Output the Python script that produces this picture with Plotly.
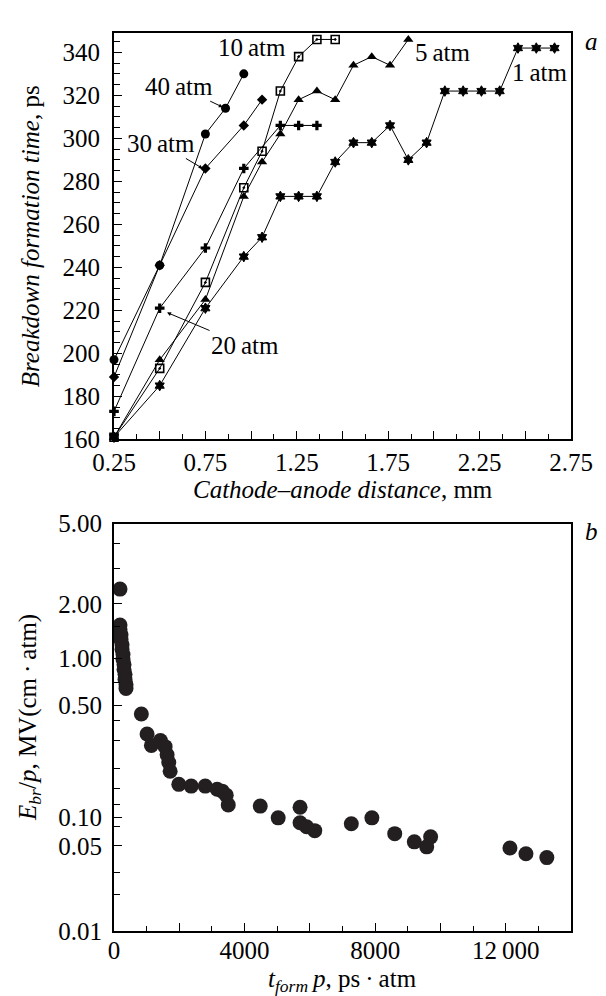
import numpy as np
import plotly.graph_objects as go

# ---------------- Panel a data ----------------
x_40 = [0.25, 0.50, 0.75, 0.86, 0.96]
y_40 = [197, 241, 302, 314, 330]

x_30 = [0.25, 0.50, 0.75, 0.96, 1.06]
y_30 = [189, 241, 286, 306, 318]

x_20 = [0.25, 0.50, 0.75, 0.96, 1.16, 1.26, 1.36]
y_20 = [173, 221, 249, 286, 306, 306, 306]

x_10 = [0.25, 0.50, 0.75, 0.96, 1.06, 1.16, 1.26, 1.36, 1.46]
y_10 = [161, 193, 233, 277, 294, 322, 338, 346, 346]

x_5 = [0.25, 0.50, 0.75, 0.96, 1.06, 1.16, 1.26, 1.36, 1.46, 1.56, 1.66, 1.76, 1.86]
y_5 = [161, 197, 225, 273, 289, 302, 318, 322, 318, 334, 338, 334, 346]

x_1 = [0.25, 0.50, 0.75, 0.96, 1.06, 1.16, 1.26, 1.36, 1.46, 1.56, 1.66, 1.76,
       1.86, 1.96, 2.06, 2.16, 2.26, 2.36, 2.46, 2.56, 2.66]
y_1 = [161, 185, 221, 245, 254, 273, 273, 273, 289, 298, 298, 306,
       290, 298, 322, 322, 322, 322, 342, 342, 342]

xa_ticks = [0.25, 0.50, 0.75, 1.00, 1.25, 1.50, 1.75, 2.00, 2.25, 2.50, 2.75]
xa_labels = ["0.25", "", "0.75", "", "1.25", "", "1.75", "", "2.25", "", "2.75"]
ya_ticks = [160, 180, 200, 220, 240, 260, 280, 300, 320, 340]

# ---------------- Panel b data ----------------
b_x = [184, 184, 184, 215, 215, 246, 246, 276, 276, 307, 307, 338, 338, 368, 368,
       838, 1013, 1145, 1422, 1566, 1627, 1678, 1720, 1985, 2365, 2795, 3160,
       3315, 3438, 3500,
       4480, 5030, 5700, 5700, 5900, 6150, 7270, 7900, 8600, 9200, 9700, 9580,
       12130, 12620, 13260]
b_y = [2.37, 1.53, 1.44, 1.35, 1.27, 1.19, 1.12, 1.05, 0.985, 0.915, 0.85, 0.79, 0.73, 0.68, 0.64,
       0.44, 0.33, 0.28, 0.30, 0.275, 0.245, 0.219, 0.193, 0.160, 0.156, 0.156, 0.149,
       0.145, 0.137, 0.119,
       0.117, 0.098, 0.115, 0.087, 0.079, 0.072, 0.085, 0.098, 0.067, 0.055, 0.062, 0.049,
       0.048, 0.043, 0.040]

xb_ticks = [0, 2000, 4000, 6000, 8000, 10000, 12000, 14000]
xb_labels = ["0", "", "4000", "", "8000", "", "12\u2009000", ""]

# y scale of panel b: non-uniform, defined by its labelled ticks
yb_tick_vals = [0.01, 0.05, 0.10, 0.50, 1.00, 2.00, 5.00]
yb_tick_text = ["0.01", "0.05", "0.10", "0.50", "1.00", "2.00", "5.00"]
yb_tick_pos = [0.0, 0.2092, 0.2798, 0.5547, 0.6691, 0.8029, 1.0]
yb_minor_vals = [4, 3, 1.5, 0.7, 0.4, 0.3, 0.2, 0.15, 0.12, 0.08, 0.03, 0.02]


def yb_scale(v):
    return np.interp(np.log10(np.asarray(v, dtype=float)), np.log10(yb_tick_vals), yb_tick_pos)


FONT = "Liberation Serif"
FS = 25
fig = go.Figure()

series = [
    (x_1, y_1, "hexagram", 8, 1),
    (x_5, y_5, "triangle-up", 9, 0),
    (x_10, y_10, "square-open-dot", 8, 1.6),
    (x_20, y_20, "cross", 8, 0),
    (x_30, y_30, "diamond", 8, 0),
    (x_40, y_40, "circle", 9, 0),
]
for xs, ys, sym, sz, lw in series:
    fig.add_trace(go.Scatter(
        x=xs, y=ys, mode="lines+markers", xaxis="x", yaxis="y",
        line=dict(color="black", width=1),
        marker=dict(symbol=sym, size=sz, color="black",
                    line=dict(color="black", width=lw)),
        showlegend=False, cliponaxis=False))

fig.add_trace(go.Scatter(
    x=b_x, y=yb_scale(b_y), mode="markers", xaxis="x2", yaxis="y2",
    marker=dict(symbol="circle", size=15, color="#231f20", line=dict(width=0)),
    showlegend=False, cliponaxis=False))

axis_common = dict(showline=True, linecolor="black", linewidth=2, mirror=True,
                   ticks="inside", tickcolor="black", tickwidth=1.3,
                   showgrid=False, zeroline=False,
                   tickfont=dict(family=FONT, size=FS, color="black"))

fig.update_layout(
    width=606, height=996,
    margin=dict(l=106, r=43, t=17, b=73),
    paper_bgcolor="white", plot_bgcolor="white",
    font=dict(family=FONT, size=FS, color="black"),
    xaxis=dict(domain=[0, 1], anchor="y", range=[0.25, 2.75],
               tickmode="array", tickvals=xa_ticks, ticktext=xa_labels, ticklen=8,
               minor=dict(dtick=0.125, tick0=0.25, ticklen=5, ticks="inside",
                          tickcolor="black", tickwidth=1.3),
               **axis_common),
    yaxis=dict(domain=[0.5475, 1], anchor="x", range=[160, 349],
               tickmode="array", tickvals=ya_ticks, ticklen=8, ticklabelstandoff=7,
               minor=dict(dtick=5, tick0=160, ticklen=6, ticks="inside",
                          tickcolor="black", tickwidth=1.3),
               **axis_common),
    xaxis2=dict(domain=[0, 1], anchor="y2", range=[0, 14000],
                tickmode="array", tickvals=xb_ticks, ticktext=xb_labels, ticklen=8,
                ticklabelstandoff=-4,
                minor=dict(dtick=1000, tick0=0, ticklen=5, ticks="inside",
                           tickcolor="black", tickwidth=1.3),
                **axis_common),
    yaxis2=dict(domain=[0, 0.4536], anchor="x2", range=[0, 1],
                tickmode="array", tickvals=list(yb_scale(yb_tick_vals)),
                ticktext=yb_tick_text, ticklen=8, ticklabelstandoff=5,
                minor=dict(tickmode="array", tickvals=list(yb_scale(yb_minor_vals)),
                           ticklen=6, ticks="inside", tickcolor="black", tickwidth=1.3),
                **axis_common),
)

ann_font = dict(family=FONT, size=FS, color="black")
arrow = dict(showarrow=True, arrowhead=2, arrowsize=0.8, arrowwidth=1, arrowcolor="black")
C = dict(xanchor="center", yanchor="middle")
annotations = [
    dict(text="10\u2009atm", x=1.005, y=342.3, xref="x", yref="y", showarrow=False, font=ann_font, **C),
    dict(text="5\u2009atm", x=2.05, y=340.0, xref="x", yref="y", showarrow=False, font=ann_font, **C),
    dict(text="1\u2009atm", x=2.58, y=330.8, xref="x", yref="y", showarrow=False, font=ann_font, **C),
    dict(text="40\u2009atm", x=0.845, y=314.5, xref="x", yref="y", ax=-44, ay=-21, font=ann_font, **C, **arrow),
    dict(text="30\u2009atm", x=0.735, y=286.0, xref="x", yref="y", ax=-42, ay=-25, font=ann_font, **C, **arrow),
    dict(text="20\u2009atm", x=0.54, y=219, xref="x", yref="y", ax=78, ay=33, font=ann_font, **C, **arrow),
    dict(text="<i>a</i>", x=1.045, y=0.99, xref="paper", yref="paper", showarrow=False,
         font=dict(family=FONT, size=FS, color="black"), **C),
    dict(text="<i>b</i>", x=1.045, y=0.4448, xref="paper", yref="paper", showarrow=False,
         font=dict(family=FONT, size=FS, color="black"), **C),
    dict(text="<i>Breakdown formation time</i>, ps", x=-0.1838, y=0.7737, xref="paper", yref="paper",
         textangle=-90, showarrow=False, font=ann_font, **C),
    dict(text="<i>Cathode\u2013anode distance</i>, mm", x=0.501, y=0.4912, xref="paper", yref="paper",
         showarrow=False, font=ann_font, **C),
    dict(text="<i>E<sub>br</sub></i>/<i>p</i>, MV(cm\u2009\u00b7\u2009atm)", x=-0.1838, y=0.2373,
         xref="paper", yref="paper", textangle=-90, showarrow=False, font=ann_font, **C),
    dict(text="<i>t<sub>form</sub>\u2009p</i>, ps\u2009\u00b7\u2009atm", x=0.501, y=-0.0555,
         xref="paper", yref="paper", showarrow=False, font=ann_font, **C),
]
fig.update_layout(annotations=annotations)

fig.write_html("out.html")
